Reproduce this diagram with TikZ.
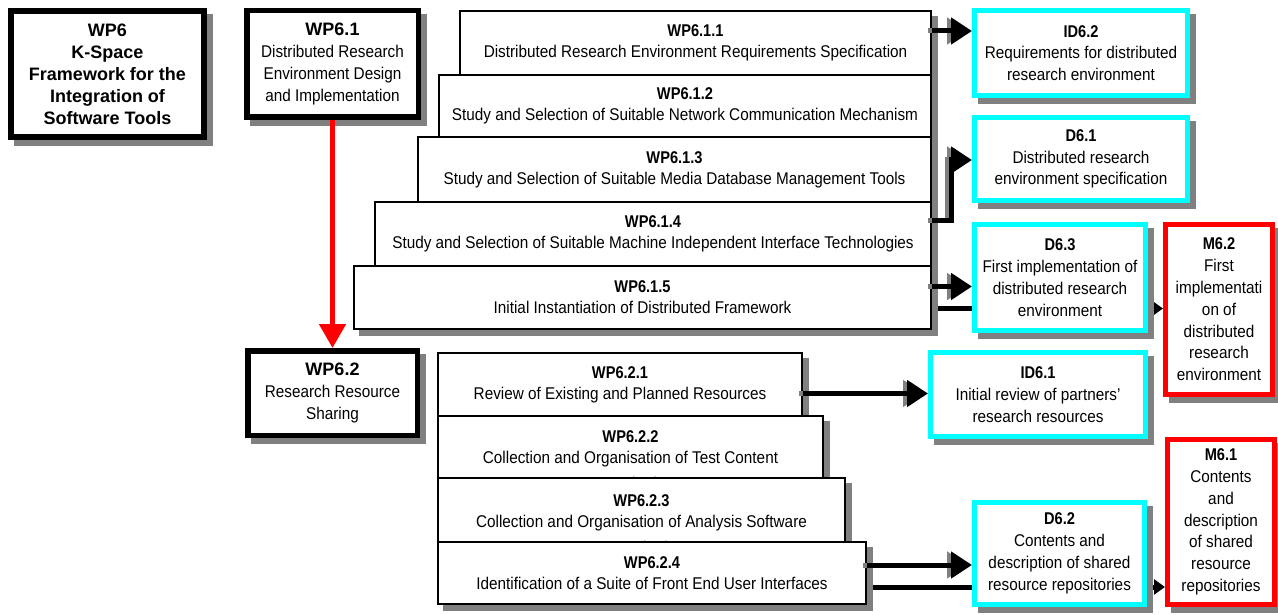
\documentclass[tikz,border=0pt]{standalone}
\usepackage{fontspec}
\setmainfont{Liberation Sans}
\newfontfamily\rgfont[FakeStretch=0.9]{Liberation Sans}
\newfontfamily\tbfont[FakeStretch=0.86]{Liberation Sans Bold}
\newfontfamily\hbfont{Liberation Sans Bold}
\usetikzlibrary{arrows.meta,shadows}
\definecolor{aqua}{RGB}{0,255,255}
\definecolor{pure red}{RGB}{255,0,0}
\definecolor{shadegray}{RGB}{128,128,128}

\tikzset{
  boxshade/.style={drop shadow={shadow xshift=6pt, shadow yshift=-6pt, opacity=1,
      fill=shadegray, draw=shadegray, line width=#1}},
  wpbox/.style={draw=black, fill=white, line width=5.5pt, boxshade=5.5pt,
      inner sep=0pt, align=center, font=\rgfont\fontsize{17}{22}\selectfont},
  taskbox/.style={draw=black, fill=white, line width=2pt, boxshade=2pt,
      inner sep=0pt, align=center, font=\rgfont\fontsize{17}{21}\selectfont},
  tasktext/.style={inner sep=0pt, align=center, font=\rgfont\fontsize{17}{21}\selectfont},
  delbox/.style={draw=aqua, fill=white, line width=5pt, boxshade=5pt,
      inner sep=0pt, align=center, font=\rgfont\fontsize{17}{21.8}\selectfont},
  msbox/.style={delbox, draw=pure red},
  conn/.style={line width=5pt, -{Triangle[length=21pt,width=26pt]}},
  connshade/.style={conn, draw=shadegray, transform canvas={xshift=-4pt}},
  msconn/.style={line width=5pt, -{Triangle[length=11pt,width=15pt]}},
}

\begin{document}
\begin{tikzpicture}[x=1pt,y=-1pt]
\useasboundingbox (0,0) rectangle (1278,615);
\fill[white] (0,0) rectangle (1278,615);

% work package boxes on the left
\node[wpbox, line width=6pt, boxshade=6pt, minimum width=193pt, minimum height=126pt,
      font=\hbfont\fontsize{18}{22}\selectfont] (wp6) at (107.5,74)
  {WP6\\K-Space\\Framework for the\\Integration of\\Software Tools};
\node[wpbox, minimum width=171.5pt, minimum height=106.5pt] (wp61) at (332.5,64)
  {{\hbfont\fontsize{18}{22}\selectfont WP6.1}\\Distributed Research\\Environment Design\\and Implementation};
\node[wpbox, minimum width=169.5pt, minimum height=84.5pt] (wp62) at (332.5,393)
  {{\hbfont\fontsize{18}{22}\selectfont WP6.2}\\Research Resource\\Sharing};

% WP6.1 tasks, stacked
\node[taskbox, minimum width=471pt, minimum height=64pt] (t611) at (695.5,43)
  {{\tbfont WP6.1.1}\\Distributed Research Environment Requirements Specification};
\node[taskbox, minimum width=492pt, minimum height=62pt] (t612) at (685,106)
  {{\tbfont WP6.1.2}\\Study and Selection of Suitable Network Communication Mechanism};
\node[taskbox, minimum width=513pt, minimum height=65pt] (t613) at (674.5,169.5)
  {{\tbfont WP6.1.3}\\Study and Selection of Suitable Media Database Management Tools};
\node[taskbox, minimum width=556pt, minimum height=64pt] (t614) at (653,234)
  {{\tbfont WP6.1.4}\\Study and Selection of Suitable Machine Independent Interface Technologies};
\node[taskbox, minimum width=577pt, minimum height=63pt] (t615) at (642.5,297.5)
  {{\tbfont WP6.1.5}\\Initial Instantiation of Distributed Framework};

% WP6.2 tasks, stacked; the third text line runs under the next box
\node[taskbox, minimum width=364pt, minimum height=63pt] (t621) at (620,384.5)
  {{\tbfont WP6.2.1}\\Review of Existing and Planned Resources};
\node[taskbox, minimum width=385pt, minimum height=62pt] (t622) at (630.5,447) {};
\node[tasktext] (x622) at (630.5,462)
  {{\tbfont WP6.2.2}\\Collection and Organisation of Test Content\\[5pt]Repositories};
\node[taskbox, minimum width=407pt, minimum height=64pt] (t623) at (641.5,510) {};
\node[tasktext] (x623) at (641.5,525.5)
  {{\tbfont WP6.2.3}\\Collection and Organisation of Analysis Software\\[5pt]Repositories};
\node[taskbox, minimum width=428pt, minimum height=62pt] (t624) at (652,573)
  {{\tbfont WP6.2.4}\\Identification of a Suite of Front End User Interfaces};

% connectors to deliverables and milestones
\coordinate (k2) at (951,160);
\draw[connshade] ([yshift=12pt]t611.east) -- ([yshift=12pt]t611.east -| 972,0);
\draw[connshade] ([yshift=14pt]t614.east) -| (k2) -- (972,160);
\draw[connshade] ([yshift=11pt]t615.east) -- ([yshift=11pt]t615.east -| 972,0);
\draw[connshade] ([yshift=-9pt]t621.east) -- ([yshift=-9pt]t621.east -| 928,0);
\draw[connshade] ([yshift=8pt]t624.east) -- ([yshift=8pt]t624.east -| 972,0);

\draw[conn] ([yshift=12pt]t611.east) -- ([yshift=12pt]t611.east -| 972,0) coordinate (a1);
\draw[conn] ([yshift=14pt]t614.east) -| (k2) -- (972,160) coordinate (a2);
\draw[conn] ([yshift=11pt]t615.east) -- ([yshift=11pt]t615.east -| 972,0) coordinate (a3);
\draw[msconn] ([xshift=6pt,yshift=-11pt]t615.east) -- ([yshift=-11pt]t615.east -| 1163,0) coordinate (a4);
\draw[conn] ([yshift=-9pt]t621.east) -- ([yshift=-9pt]t621.east -| 928,0) coordinate (a5);
\draw[conn] ([yshift=8pt]t624.east) -- ([yshift=8pt]t624.east -| 972,0) coordinate (a6);
\draw[msconn] ([xshift=6pt,yshift=-14pt]t624.east) -- ([yshift=-14pt]t624.east -| 1165,0) coordinate (a7);

\draw[pure red, line width=5pt, -{Triangle[length=24pt,width=26pt]}] (wp61.south) -- (wp62.north);

% deliverables
\node[delbox, minimum width=213pt, minimum height=85pt] (id62) at (1081,53)
  {{\tbfont ID6.2}\\Requirements for distributed\\research environment};
\node[delbox, minimum width=213pt, minimum height=83pt] (d61) at (1081,159)
  {{\tbfont D6.1}\\Distributed research\\environment specification};
\node[delbox, minimum width=171pt, minimum height=106pt] (d63) at (1060,277.5)
  {{\tbfont D6.3}\\First implementation of\\distributed research\\environment};
\node[delbox, minimum width=215pt, minimum height=84pt] (id61) at (1038,394.5)
  {{\tbfont ID6.1}\\Initial review of partners’\\research resources};
\node[delbox, minimum width=170pt, minimum height=102pt] (d62) at (1059.5,553.5)
  {{\tbfont D6.2}\\Contents and\\description of shared\\resource repositories};

% milestones
\node[msbox, minimum width=107pt, minimum height=170pt] (m62) at (1219,309.5)
  {{\tbfont M6.2}\\First\\implementati\\on of\\distributed\\research\\environment};
\node[msbox, minimum width=107pt, minimum height=165pt] (m61) at (1221,522)
  {{\tbfont M6.1}\\Contents\\and\\description\\of shared\\resource\\repositories};
\end{tikzpicture}
\end{document}
